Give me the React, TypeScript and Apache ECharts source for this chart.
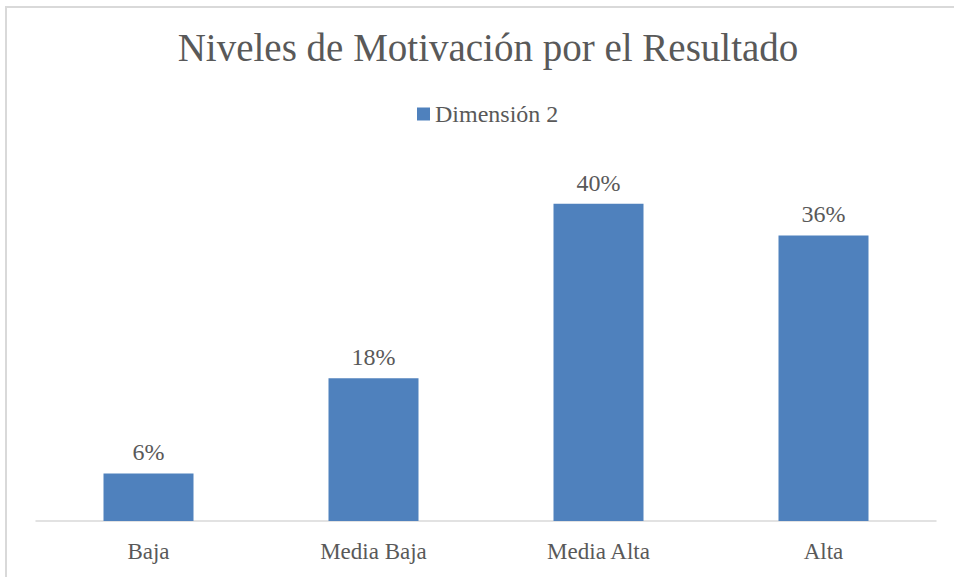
import React, { useEffect, useRef } from "react";
import * as echarts from "echarts";

const categories = ["Baja", "Media Baja", "Media Alta", "Alta"];
const values = [6, 18, 40, 36];
const seriesName = "Dimensión 2";
const titleText = "Niveles de Motivación por el Resultado";

const FONT = "Liberation Serif";
const TEXT = "#595959";

export default function App() {
  const ref = useRef<HTMLDivElement>(null);
  useEffect(() => {
    document.body.style.margin = "0";
    const chart = echarts.init(ref.current!, null, { renderer: "svg" });
    const legendText = { fontFamily: FONT, fontSize: 24, color: TEXT };
    chart.setOption({
      animation: false,
      backgroundColor: "#ffffff",
      title: {
        text: titleText,
        left: 483,
        top: 23,
        textAlign: "center",
        textStyle: { fontFamily: FONT, fontSize: 39, fontWeight: "normal", color: TEXT },
      },
      legend: {
        show: true,
        data: [{ name: seriesName, textStyle: legendText }],
        left: 412,
        top: 97,
        itemWidth: 13,
        itemHeight: 13,
        itemGap: 6,
        icon: "rect",
        textStyle: legendText,
      },
      graphic: [
        {
          type: "rect",
          shape: { x: 6, y: 7, width: 1200, height: 1200 },
          style: { fill: "none", stroke: "#D9D9D9", lineWidth: 2 },
          silent: true,
        },
      ],
      grid: { left: 36, right: 18, top: 164, bottom: 56, containLabel: false },
      xAxis: {
        type: "category",
        data: categories,
        axisLine: { lineStyle: { color: "#D9D9D9", width: 1.5 } },
        axisTick: { show: false },
        axisLabel: { fontFamily: FONT, fontSize: 23, color: TEXT, margin: 19 },
      },
      yAxis: {
        type: "value",
        min: 0,
        max: 45,
        show: false,
        splitLine: { show: false },
      },
      series: [
        {
          name: seriesName,
          type: "bar",
          data: values,
          barWidth: "40%",
          itemStyle: { color: "#4F81BD" },
          label: {
            show: true,
            position: "top",
            distance: 9,
            formatter: "{c}%",
            fontFamily: FONT,
            fontSize: 24,
            color: TEXT,
          },
        },
      ],
    });
    return () => chart.dispose();
  }, []);
  return <div ref={ref} style={{ width: 954, height: 577 }} />;
}
